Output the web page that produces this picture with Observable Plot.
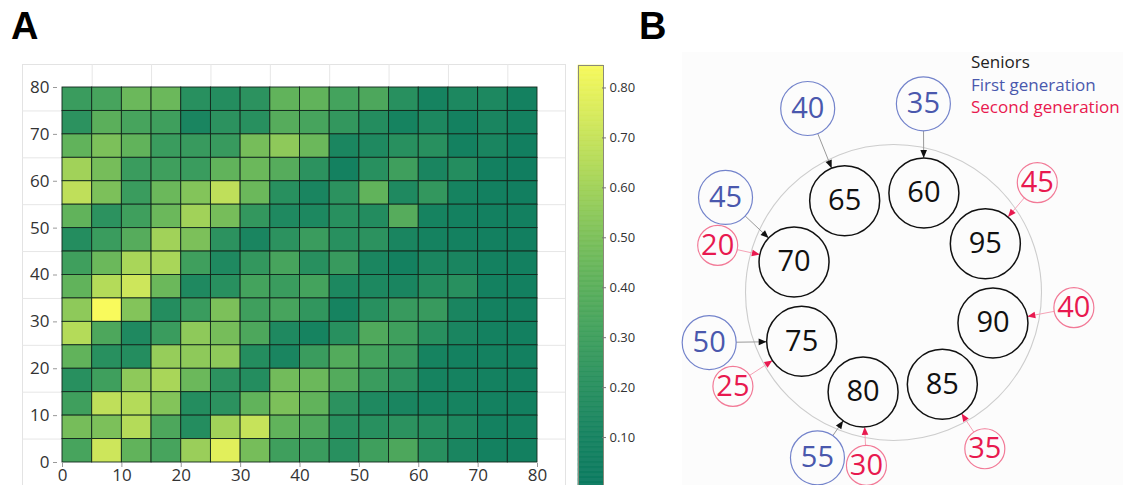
<!DOCTYPE html>
<html><head><meta charset="utf-8">
<script src="https://cdn.jsdelivr.net/npm/d3@7"></script>
<script src="https://cdn.jsdelivr.net/npm/@observablehq/plot@0.6"></script>
<style>
body{margin:0;background:#fff;}
#root{position:relative;width:1123px;height:485px;overflow:hidden;background:#fff;font-family:"Open Sans",sans-serif;}
.abs{position:absolute;}
.plabel{position:absolute;font-family:"Liberation Sans",Arial,sans-serif;font-weight:bold;font-size:38px;line-height:1;}
#legend{position:absolute;left:971px;top:51px;font-size:17px;line-height:22.5px;font-family:"Open Sans",sans-serif;}
</style></head><body><div id="root">
<div class="abs" style="left:22px;top:64px;width:542px;height:480px;border:1px solid #e3e3e3;"></div>
<div class="abs" style="left:682px;top:52px;width:441px;height:433px;background:#fcfcfc;"></div>
<div class="plabel" style="left:11px;top:7px;">A</div>
<div class="plabel" style="left:639px;top:7px;">B</div>
<div class="abs" id="A" style="left:0;top:0"></div>
<div class="abs" id="CB" style="left:570px;top:0"></div>
<div class="abs" id="B" style="left:640px;top:0"></div>
<div id="legend"><div style="color:#222">Seniors</div><div style="color:#4a58ad">First generation</div><div style="color:#e8194f">Second generation</div></div>
</div>
<script>
// ---------- Panel A data ----------
// rows from top (y 75–80) to bottom (y 0–5), columns x 0–5 ... 75–80
const heatValues = [
 [0.28,0.33,0.45,0.45,0.20,0.18,0.22,0.42,0.42,0.32,0.35,0.20,0.10,0.14,0.14,0.08],
 [0.22,0.40,0.33,0.30,0.12,0.22,0.20,0.38,0.33,0.25,0.18,0.10,0.14,0.08,0.12,0.08],
 [0.42,0.50,0.42,0.28,0.27,0.27,0.48,0.55,0.45,0.13,0.15,0.20,0.20,0.08,0.12,0.06],
 [0.60,0.48,0.28,0.30,0.28,0.42,0.45,0.38,0.22,0.08,0.20,0.30,0.12,0.18,0.07,0.05],
 [0.68,0.50,0.28,0.45,0.52,0.68,0.45,0.20,0.12,0.22,0.42,0.15,0.25,0.10,0.07,0.06],
 [0.42,0.22,0.30,0.45,0.60,0.48,0.25,0.15,0.14,0.20,0.17,0.38,0.10,0.08,0.07,0.07],
 [0.18,0.28,0.38,0.60,0.50,0.22,0.12,0.22,0.28,0.20,0.22,0.12,0.09,0.08,0.07,0.06],
 [0.30,0.45,0.62,0.62,0.30,0.15,0.25,0.33,0.20,0.27,0.13,0.08,0.13,0.12,0.08,0.07],
 [0.42,0.65,0.72,0.45,0.15,0.20,0.32,0.28,0.32,0.14,0.14,0.12,0.18,0.20,0.08,0.07],
 [0.55,0.85,0.52,0.18,0.28,0.50,0.30,0.33,0.24,0.10,0.20,0.27,0.27,0.12,0.08,0.07],
 [0.65,0.35,0.15,0.28,0.55,0.48,0.35,0.15,0.10,0.20,0.36,0.30,0.20,0.12,0.08,0.07],
 [0.42,0.20,0.18,0.57,0.55,0.55,0.18,0.12,0.28,0.37,0.32,0.27,0.10,0.08,0.08,0.07],
 [0.20,0.30,0.55,0.62,0.45,0.22,0.18,0.47,0.45,0.37,0.28,0.22,0.10,0.09,0.08,0.07],
 [0.30,0.68,0.65,0.52,0.18,0.22,0.42,0.50,0.42,0.22,0.15,0.12,0.10,0.10,0.08,0.07],
 [0.48,0.50,0.65,0.35,0.18,0.60,0.70,0.42,0.36,0.20,0.20,0.22,0.18,0.14,0.08,0.08],
 [0.33,0.72,0.42,0.33,0.58,0.78,0.48,0.30,0.28,0.20,0.30,0.35,0.20,0.12,0.08,0.07]
];
const cellSize = 5;
const xTicks = [0,10,20,30,40,50,60,70,80];
const yTicks = [0,10,20,30,40,50,60,70,80];
const minorGrid = [5,15,25,35,45,55,65,75];
const colorTicks = [0.1,0.2,0.3,0.4,0.5,0.6,0.7,0.8];
const colorMax = 0.845;

// ---------- Panel B data ----------
const seniors = [65, 60, 95, 90, 85, 80, 75, 70];
const firstGen = [40, 35, 45, 50, 55];
const firstGenTarget = [65, 60, 70, 75, 80];
const secondGen = [45, 20, 40, 35, 25, 30];
const secondGenTarget = [95, 70, 90, 85, 75, 80];

// ---------- layout (not data) ----------
const palette = ["#0b7a60","#178360","#2a915f","#43a25d","#62b35b","#86c55a","#aed859","#d4e95b","#f7f95c"];
const B = {cx: 253, cy: 292, ring: 148, seniorRing: 104, seniorStart: 118, seniorStep: -45,
  rSenior: 35, rFirst: 27, rSecond: 20,
  firstAngle: [115, 81, 150.5, 195.2, 245.3], firstDist: [203, 191, 193, 191, 182],
  secondAngle: [37.4, 165, -4.8, -59.7, 210.3, 261.1], secondDist: [181, 182, 181, 181, 186, 175]};

const colorOpts = {type: "linear", domain: [0, colorMax], interpolate: d3.piecewise(d3.interpolateRgb, palette)};

// ---------- Panel A ----------
const nRows = heatValues.length;
const cells = [];
heatValues.forEach((row, i) => row.forEach((v, j) => cells.push({
  x1: j * cellSize, x2: (j + 1) * cellSize,
  y1: (nRows - 1 - i) * cellSize, y2: (nRows - i) * cellSize, v})));

const plotA = Plot.plot({
  width: 575, height: 490, marginLeft: 62, marginRight: 38, marginTop: 87, marginBottom: 28,
  x: {domain: [0, 80]}, y: {domain: [0, 80]}, color: colorOpts,
  style: {fontFamily: "Open Sans", fontSize: "17px", background: "transparent", color: "#333", overflow: "visible"},
  marks: [
    Plot.ruleX(minorGrid, {stroke: "#e6e6e6", insetTop: -23}),
    Plot.ruleY(minorGrid, {stroke: "#e6e6e6", insetLeft: -40, insetRight: -28}),
    Plot.rect(cells, {x1: "x1", x2: "x2", y1: "y1", y2: "y2", fill: "v", stroke: "#12281d", strokeWidth: 0.9}),
    Plot.axisX(xTicks, {tickSize: 4, tickPadding: 1, dy: 1, stroke: "#999", fill: "#333", label: null}),
    Plot.axisY(yTicks, {tickSize: 4, tickPadding: 4, dx: -5, stroke: "#999", fill: "#333", label: null})
  ]
});
document.getElementById("A").appendChild(plotA);

// ---------- Colorbar ----------
const step = 0.0025;
const strip = d3.range(0, colorMax, step);
const plotCB = Plot.plot({
  width: 80, height: 500, marginLeft: 8, marginRight: 47, marginTop: 65, marginBottom: 13,
  y: {domain: [0, colorMax]}, color: colorOpts,
  style: {fontFamily: "Open Sans", fontSize: "13px", background: "transparent", color: "#333"},
  marks: [
    Plot.rect(strip, {y1: d => d, y2: d => Math.min(colorMax, d + step), fill: d => d, stroke: d => d, strokeWidth: 0.6}),
    Plot.frame({stroke: "#8a8a7a"}),
    Plot.axisY(colorTicks, {anchor: "right", tickSize: 4, tickPadding: 4, dx: -2, tickFormat: ".2f", stroke: "#777", fill: "#333", label: null})
  ]
});
document.getElementById("CB").appendChild(plotCB);

// ---------- Panel B ----------
const rad = a => a * Math.PI / 180;
const polar = (a, d) => ({x: B.cx + d * Math.cos(rad(a)), y: B.cy - d * Math.sin(rad(a))});
const seniorNodes = seniors.map((v, i) => ({value: v, ...polar(B.seniorStart + i * B.seniorStep, B.seniorRing)}));
const byValue = new Map(seniorNodes.map(d => [d.value, d]));
const firstNodes = firstGen.map((v, i) => ({value: v, target: firstGenTarget[i], ...polar(B.firstAngle[i], B.firstDist[i])}));
const secondNodes = secondGen.map((v, i) => ({value: v, target: secondGenTarget[i], ...polar(B.secondAngle[i], B.secondDist[i])}));
function edges(nodes, rOuter) {
  return nodes.map(n => {
    const t = byValue.get(n.target);
    const dx = t.x - n.x, dy = t.y - n.y, L = Math.hypot(dx, dy);
    const ux = dx / L, uy = dy / L;
    return {x1: n.x + rOuter * ux, y1: n.y + rOuter * uy,
            x2: t.x - B.rSenior * ux, y2: t.y - B.rSenior * uy,
            rot: Math.atan2(ux, -uy) * 180 / Math.PI};
  });
}
const firstEdges = edges(firstNodes, B.rFirst);
const secondEdges = edges(secondNodes, B.rSecond);
const blue = "#4a58ad", red = "#e8194f";

const plotB = Plot.plot({
  width: 483, height: 485, margin: 0,
  x: {domain: [0, 483], range: [0, 483]}, y: {domain: [0, 485], range: [0, 485]},
  axis: null,
  style: {fontFamily: "Open Sans", background: "transparent", overflow: "visible"},
  marks: [
    Plot.dot([{x: B.cx, y: B.cy}], {x: "x", y: "y", r: B.ring, stroke: "#cdcdcd", strokeWidth: 1.1, fill: "none"}),
    Plot.link(firstEdges, {x1: "x1", y1: "y1", x2: "x2", y2: "y2", stroke: "#9a9a9a", strokeWidth: 1}),
    Plot.link(secondEdges, {x1: "x1", y1: "y1", x2: "x2", y2: "y2", stroke: "#f5a3b6", strokeWidth: 1}),
    Plot.vector(firstEdges, {x: "x2", y: "y2", rotate: "rot", length: 8, shape: "spike", anchor: "end", r: 3.3, fill: "#111", stroke: "none"}),
    Plot.vector(secondEdges, {x: "x2", y: "y2", rotate: "rot", length: 8, shape: "spike", anchor: "end", r: 3.3, fill: red, stroke: "none"}),
    Plot.dot(seniorNodes, {x: "x", y: "y", r: B.rSenior, stroke: "#111", strokeWidth: 1.5, fill: "none"}),
    Plot.dot(firstNodes, {x: "x", y: "y", r: B.rFirst, stroke: "#7383cb", strokeWidth: 1.2, fill: "none"}),
    Plot.dot(secondNodes, {x: "x", y: "y", r: B.rSecond, stroke: "#f27a97", strokeWidth: 1.2, fill: "none"}),
    Plot.text(seniorNodes, {x: "x", y: "y", text: "value", fontSize: 29, fill: "#111"}),
    Plot.text(firstNodes, {x: "x", y: "y", text: "value", fontSize: 29, fill: blue}),
    Plot.text(secondNodes, {x: "x", y: "y", text: "value", fontSize: 29, fill: red})
  ]
});
document.getElementById("B").appendChild(plotB);
</script>
</body></html>
